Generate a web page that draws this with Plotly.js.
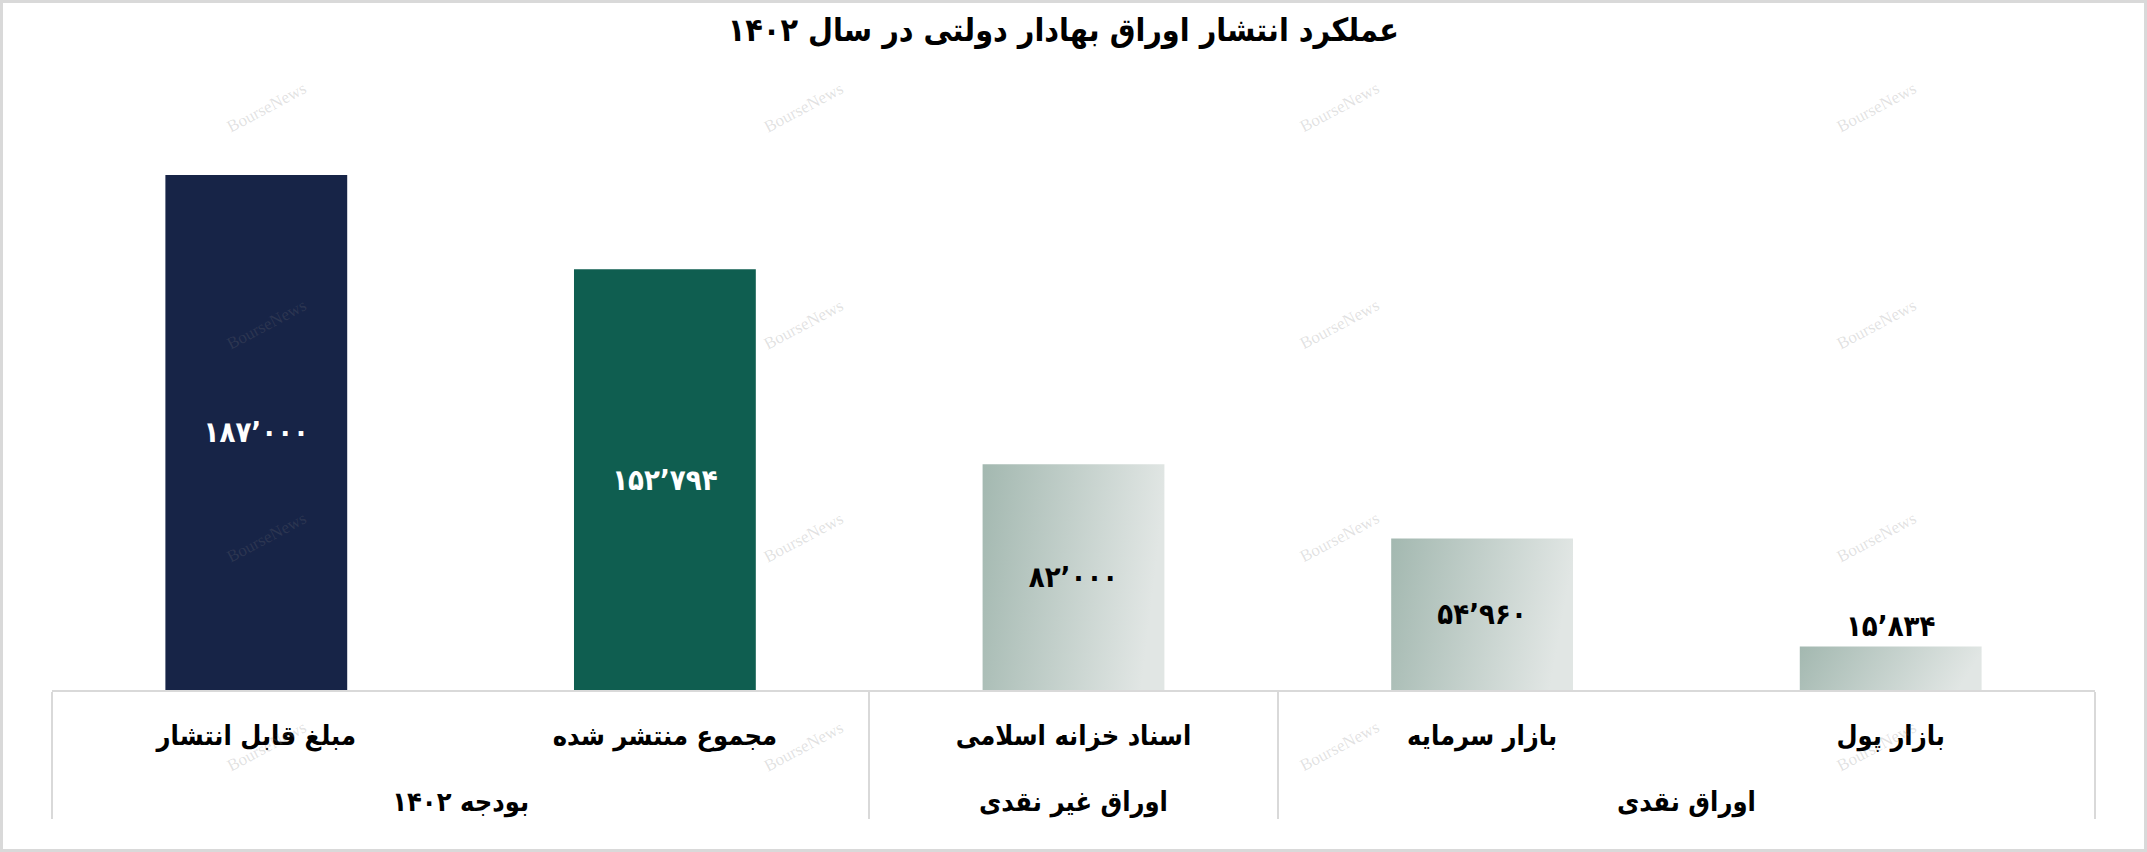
<!DOCTYPE html>
<html>
<head>
<meta charset="utf-8">
<script src="https://cdn.plot.ly/plotly-3.0.1.min.js"></script>
<style>
html,body{margin:0;padding:0;background:#fff;}
#chart{width:2147px;height:852px;}
#frame{position:absolute;left:0;top:0;width:2147px;height:852px;box-sizing:border-box;border:3px solid #d9d9d9;pointer-events:none;}
</style>
</head>
<body>
<div id="chart"></div>
<div id="frame"></div>
<script>
// ---- data ----
const groups = ["بودجه ۱۴۰۲", "بودجه ۱۴۰۲", "اوراق غیر نقدی", "اوراق نقدی", "اوراق نقدی"];
const categories = ["مبلغ قابل انتشار", "مجموع منتشر شده", "اسناد خزانه اسلامی", "بازار سرمایه", "بازار پول"];
const values = [187000, 152794, 82000, 54960, 15834];
const valueLabels = ["۱۸۷٬۰۰۰", "۱۵۲٬۷۹۴", "۸۲٬۰۰۰", "۵۴٬۹۶۰", "۱۵٬۸۳۴"];
const titleText = "عملکرد انتشار اوراق بهادار دولتی در سال ۱۴۰۲";
const watermark = "BourseNews";

// ---- styles ----
const barColors = ["#172447", "#0f5e50", "#b9c8c2", "#b9c8c2", "#b9c8c2"];
const labelColors = ["#ffffff", "#ffffff", "#000000", "#000000", "#000000"];
const labelPos = ["inside", "inside", "inside", "inside", "outside"];
const FONT = "'DejaVu Sans Condensed', 'DejaVu Sans', sans-serif";
const lbl = s => "<span style='font-size:27px;font-weight:bold'>" + s + "</span>";

const trace = {
  type: "bar",
  x: [groups.map(g => "<br>" + lbl(g)), categories.map(lbl)],
  y: values,
  text: valueLabels,
  textposition: labelPos,
  insidetextanchor: "middle",
  constraintext: "none",
  cliponaxis: false,
  textfont: {family: FONT, size: 29, color: labelColors, weight: "bold"},
  outsidetextfont: {family: FONT, size: 29, color: "#000000", weight: "bold"},
  marker: {color: barColors, line: {width: 0}},
  width: 0.445,
  hoverinfo: "none"
};

const wmX = [0.105, 0.368, 0.630, 0.893];
const wmY = [0.988, 0.620, 0.259, -0.095];
const annotations = [];
wmX.forEach(px => wmY.forEach(py => {
  annotations.push({
    text: watermark, xref: "paper", yref: "paper", x: px, y: py,
    xanchor: "center", yanchor: "middle",
    showarrow: false, textangle: -28,
    font: {family: "'Liberation Serif', serif", size: 17, color: "rgba(120,120,120,0.22)"}
  });
}));

const layout = {
  width: 2147, height: 852,
  margin: {l: 52, r: 52, t: 100, b: 162},
  paper_bgcolor: "#ffffff",
  plot_bgcolor: "#ffffff",
  showlegend: false,
  title: {
    text: "<b>" + titleText + "</b>",
    x: 0.495, xref: "paper", y: 0.965, yref: "container", yanchor: "middle",
    font: {family: FONT, size: 32, color: "#000000"}
  },
  xaxis: {
    type: "multicategory",
    range: [-0.5, 4.5],
    showline: true, linecolor: "#d9d9d9", linewidth: 2,
    showgrid: false, zeroline: false,
    ticks: "", ticklabelstandoff: 12,
    showdividers: true, dividercolor: "#d9d9d9", dividerwidth: 2,
    tickfont: {family: FONT, size: 34, color: "#000000", weight: "bold"}
  },
  yaxis: {
    range: [0, 214200],
    visible: false, showgrid: false, zeroline: false
  },
  annotations: annotations
};

Plotly.newPlot("chart", [trace], layout, {displayModeBar: false, staticPlot: true}).then(gd => {
  const svg = gd.querySelector(".main-svg");
  const ns = "http://www.w3.org/2000/svg";
  let defs = svg.querySelector("defs");
  if (!defs) { defs = document.createElementNS(ns, "defs"); svg.insertBefore(defs, svg.firstChild); }
  const lg = document.createElementNS(ns, "linearGradient");
  lg.setAttribute("id", "barGrad");
  lg.setAttribute("x1", "0"); lg.setAttribute("y1", "0");
  lg.setAttribute("x2", "1"); lg.setAttribute("y2", "0.15");
  [["0", "#a3b8b0"], ["1", "#e1e6e4"]].forEach(([o, c]) => {
    const s = document.createElementNS(ns, "stop");
    s.setAttribute("offset", o); s.setAttribute("stop-color", c);
    lg.appendChild(s);
  });
  defs.appendChild(lg);
  const paths = gd.querySelectorAll(".barlayer .point path");
  paths.forEach((p, i) => { if (i >= 2) p.style.fill = "url(#barGrad)"; });
});
</script>
</body>
</html>
